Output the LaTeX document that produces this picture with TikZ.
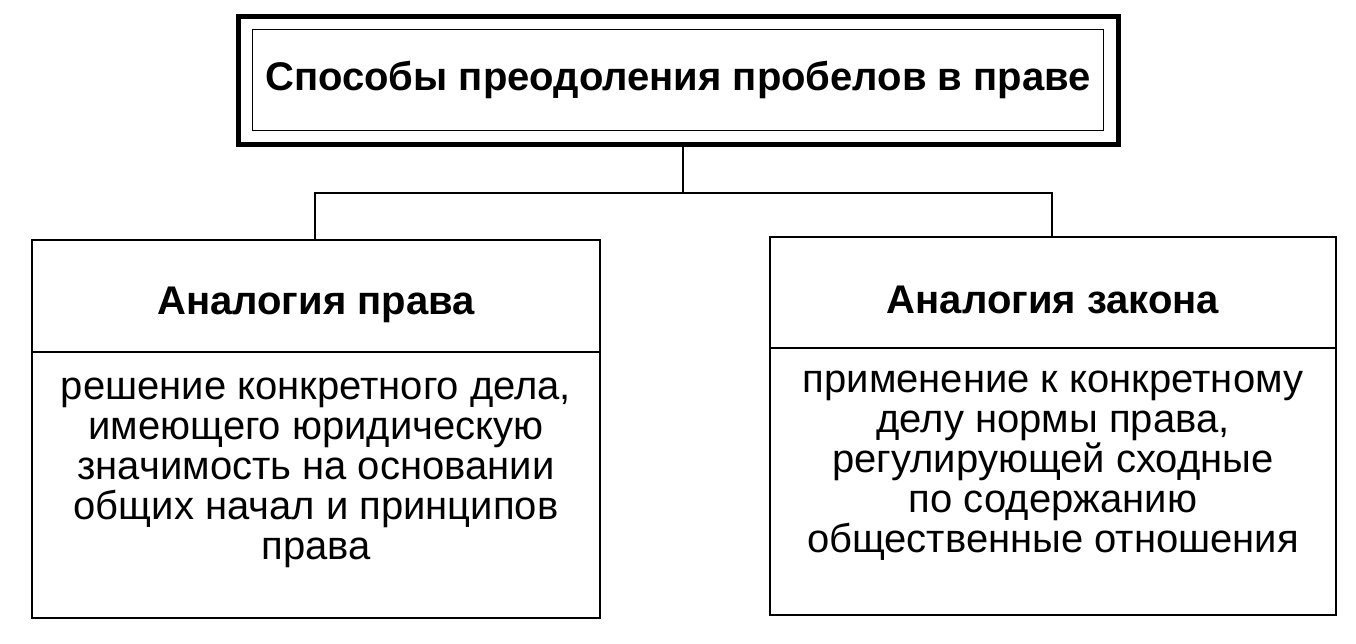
\documentclass[tikz,border=0pt]{standalone}
\usepackage{fontspec}
\setmainfont{Liberation Sans}
\begin{document}
\begin{tikzpicture}[x=1pt,y=-1pt,
  box/.style={draw,line width=2pt},
  ttl/.style={font=\fontsize{40}{40}\selectfont\bfseries,align=center},
  body/.style={font=\fontsize{40}{40}\selectfont,align=center}]
\useasboundingbox (0,0) rectangle (1356,643);
\draw[line width=5pt] (238,16) rectangle (1118,144);
\node[draw,line width=1.5pt,minimum width=851pt,minimum height=101pt,inner sep=0pt] (top) at (678,80) {};
\node[ttl] at (top.center) {Способы преодоления пробелов в праве};
\draw[box] (32,240) rectangle (600,618);
\draw[box] (32,352) -- (600,352);
\node[ttl] (lt) at (316,305) {Аналогия права};
\node[body] (lb) at (316,473) {решение конкретного дела,\\имеющего юридическую\\значимость на основании\\общих начал и принципов\\права};
\draw[box] (770,237) rectangle (1336,615);
\draw[box] (770,348) -- (1336,348);
\node[ttl] (rt) at (1053,300) {Аналогия закона};
\node[body] (rb) at (1053,466) {применение к конкретному\\делу нормы права,\\регулирующей сходные\\по содержанию\\общественные отношения};
\coordinate (a) at (683,146);
\coordinate (b) at (683,193);
\draw[line width=1.5pt] (a) -- (b);
\draw[line width=1.5pt] (315,240) -- (315,193) -- (1052,193) -- (1052,237);
\end{tikzpicture}
\end{document}
